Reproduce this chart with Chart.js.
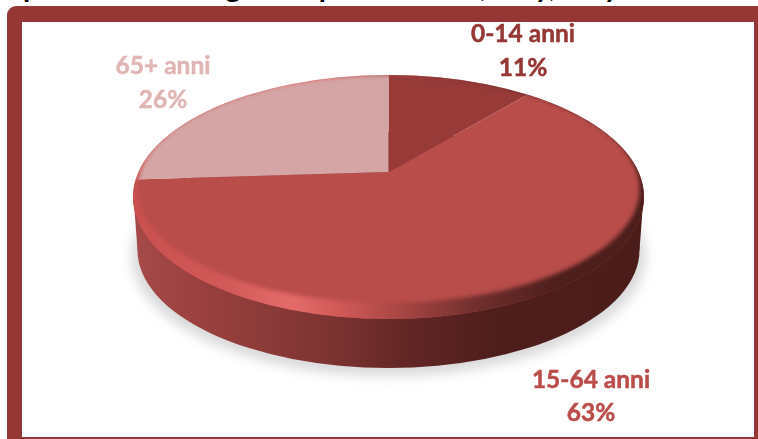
<!DOCTYPE html>
<html lang="it">
<head>
  <meta charset="UTF-8">
  <title>Popolazione per età</title>
  <script src="https://cdn.jsdelivr.net/npm/chart.js"></script>
  <style>
    html, body {
      margin: 0;
      width: 758px;
      height: 439px;
      overflow: hidden;
      background: #fff;
    }

    #titolo {
      position: absolute;
      left: 23px;
      top: -33px;
      width: 735px;
      font: bold 29px Lato, sans-serif;
      line-height: 38px;
      white-space: nowrap;
      color: #000;
    }

    #cornice {
      position: absolute;
      left: 7px;
      top: 6px;
      width: 732px;
      height: 415px;
      border-style: solid;
      border-color: #953735;
      border-width: 16px 4px 2px 15px;
      border-top-left-radius: 9px;
    }

    canvas {
      position: absolute;
      left: 0;
      top: 0;
    }
  </style>
</head>
<body>
  <div id="titolo">posizione demografica per età anno, Italy, Italy</div>
  <div id="cornice"></div>
  <canvas id="torta" width="758" height="439"></canvas>
  <script>
  const categorie = ["0-14 anni", "15-64 anni", "65+ anni"];
  const valori = [11, 63, 26];
  const coloriFette = ["#973a38", "#b94d4a", "#d5a5a5"];
  const coloriTesto = ["#953735", "#b94d4a", "#e0b6b5"];

  // posizione delle etichette (centro testo, prima e seconda riga)
  const posEtichette = [[523, 34, 68], [591, 380, 413], [163, 66, 100]];

  const schiacciamento = 0.46; // il disco e' visto di sbieco

  function ellisse(ctx, cx, cy, rx, ry) {
    ctx.beginPath();
    ctx.ellipse(cx, cy, rx, ry, 0, 0, Math.PI * 2);
  }

  function gradiente(ctx, da, a, stops) {
    const g = ctx.createLinearGradient(da, 0, a, 0);
    stops.forEach(s => g.addColorStop((s[0] - da) / (a - da), s[1]));
    return g;
  }

  const disco3d = {
    id: "disco3d",
    beforeDatasetsDraw(chart) {
      const ctx = chart.ctx;
      const arc = chart.getDatasetMeta(0).data[0];
      const cx = arc.x, cy = arc.y;

      // ombra sotto il disco
      ctx.save();
      ctx.filter = "blur(6px)";
      ctx.fillStyle = "#d9d9d9";
      ellisse(ctx, cx, cy + 84, 257, 120);
      ctx.fill();
      ctx.restore();

      // fianco del disco
      ctx.save();
      ctx.fillStyle = gradiente(ctx, 133, 644, [
        [135, "#a54a49"], [200, "#9a403e"], [270, "#8a3a38"], [340, "#7a3230"],
        [400, "#642726"], [500, "#4e1e1c"], [640, "#4a1c1a"]
      ]);
      ellisse(ctx, cx, cy + 78, 251, 118);
      ctx.fill();
      ctx.beginPath();
      ctx.moveTo(cx - 255, cy + 25);
      ctx.lineTo(cx - 251, cy + 78);
      ctx.lineTo(cx + 251, cy + 78);
      ctx.lineTo(cx + 255, cy + 25);
      ctx.closePath();
      ctx.fill();
      ctx.restore();

      // le fette vengono disegnate schiacciate e tagliate sull'ellisse
      ctx.save();
      ellisse(ctx, cx, cy + 25, 255.5, 122);
      ctx.clip();
      ctx.translate(cx, cy);
      ctx.scale(1, schiacciamento);
      ctx.translate(-cx, -cy);
    },
    afterDatasetsDraw(chart) {
      const ctx = chart.ctx;
      ctx.restore();
      const arc = chart.getDatasetMeta(0).data[0];
      const cx = arc.x, cy = arc.y;

      // bordo smussato del piano superiore
      ctx.save();
      ellisse(ctx, cx, cy + 25, 255.5, 122);
      ctx.clip();
      ctx.filter = "blur(2px)";
      ctx.fillStyle = gradiente(ctx, 133, 644, [
        [133, "#c9504e"], [230, "#d25a58"], [290, "#e46b69"], [340, "#d05a58"],
        [400, "#a84644"], [480, "#6e2e2c"], [560, "#4c1e1c"], [644, "#4c1e1c"]
      ]);
      ctx.beginPath();
      ctx.rect(0, 0, chart.width, chart.height);
      ctx.ellipse(cx, cy + 17, 251, 114, 0, 0, Math.PI * 2);
      ctx.fill("evenodd");
      ctx.restore();
    },
    afterDraw(chart) {
      const ctx = chart.ctx;
      ctx.save();
      ctx.font = "bold 24.5px Lato, sans-serif";
      ctx.textAlign = "center";
      ctx.textBaseline = "middle";
      ctx.lineWidth = 0.5;
      categorie.forEach((nome, i) => {
        ctx.fillStyle = coloriTesto[i];
        ctx.strokeStyle = coloriTesto[i];
        ctx.fillText(nome, posEtichette[i][0], posEtichette[i][1]);
        ctx.strokeText(nome, posEtichette[i][0], posEtichette[i][1]);
        ctx.fillText(valori[i] + "%", posEtichette[i][0], posEtichette[i][2]);
        ctx.strokeText(valori[i] + "%", posEtichette[i][0], posEtichette[i][2]);
      });
      ctx.restore();
    }
  };

  new Chart(document.getElementById("torta"), {
    type: "pie",
    data: {
      labels: categorie,
      datasets: [{
        data: valori,
        backgroundColor: coloriFette,
        borderWidth: 0,
        clip: false
      }]
    },
    options: {
      responsive: false,
      animation: false,
      radius: 340,
      layout: { padding: { left: 19, bottom: 95 } },
      plugins: {
        legend: { display: false },
        tooltip: { enabled: false }
      }
    },
    plugins: [disco3d]
  });
  </script>
</body>
</html>
